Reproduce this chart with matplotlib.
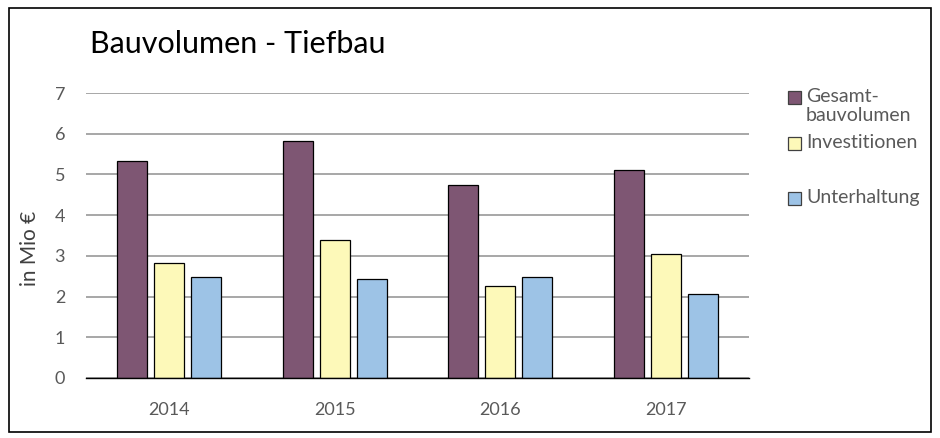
import numpy as np
import matplotlib.pyplot as plt
from matplotlib.patches import Rectangle

years = ['2014', '2015', '2016', '2017']
gesamt = [5.32, 5.81, 4.74, 5.11]
invest = [2.83, 3.38, 2.25, 3.04]
unterh = [2.48, 2.43, 2.48, 2.06]

labels = ['Gesamt-\nbauvolumen', 'Investitionen', 'Unterhaltung']
colors = ['#7E5673', '#FDF9B9', '#9DC3E6']

plt.rcParams['font.family'] = ['Lato', 'DejaVu Sans']

fig = plt.figure(figsize=(9.4, 4.38), dpi=100)
ax = fig.add_axes([86 / 940, 1 - 378 / 438, (749 - 86) / 940, (378 - 93) / 438])

x = np.arange(len(years))
w = 0.18
step = 0.223
for i, (vals, c) in enumerate(zip([gesamt, invest, unterh], colors)):
    ax.bar(x + (i - 1) * step, vals, w, color=c, edgecolor='black', linewidth=0.9,
           zorder=3)

ax.set_xlim(-0.5, 3.5)
ax.set_ylim(0, 7)
ax.set_yticks(range(8))
ax.set_xticks(x)
ax.set_xticklabels(years)
ax.yaxis.grid(True, color='#A0A0A0', linewidth=1.3, zorder=0)
for s in ['top', 'right', 'left']:
    ax.spines[s].set_visible(False)
ax.spines['bottom'].set_color('black')
ax.spines['bottom'].set_linewidth(1.0)
ax.spines['bottom'].set_zorder(4)
ax.tick_params(axis='both', length=0, labelsize=13, labelcolor='#595959')
ax.tick_params(axis='x', pad=17)
ax.tick_params(axis='y', pad=15)
fig.text(30 / 940, 1 - 248 / 438, 'in Mio €', fontsize=15, color='#404040',
         rotation=90, ha='center', va='center')

fig.text(90 / 940, 1 - 44 / 438, 'Bauvolumen - Tiefbau', fontsize=22, color='black',
         va='center', ha='left')

# legend drawn by hand, Excel-style uneven spacing
leg_y = [97, 143, 198]
for lab, c, yy in zip(labels, colors, leg_y):
    fig.add_artist(Rectangle((788 / 940, 1 - (yy + 6.5) / 438), 13 / 940, 13 / 438,
                             facecolor=c, edgecolor='#404040', linewidth=0.9,
                             transform=fig.transFigure))
    fig.text(806 / 940, 1 - (yy - 9) / 438, lab, fontsize=14, color='#595959',
             ha='left', va='top', linespacing=1.15)

fig.add_artist(Rectangle((9 / 940, 6 / 438), 922 / 940, 424 / 438, fill=False,
                         edgecolor='black', linewidth=1.2,
                         transform=fig.transFigure))

fig.savefig('out.png', dpi=100)
